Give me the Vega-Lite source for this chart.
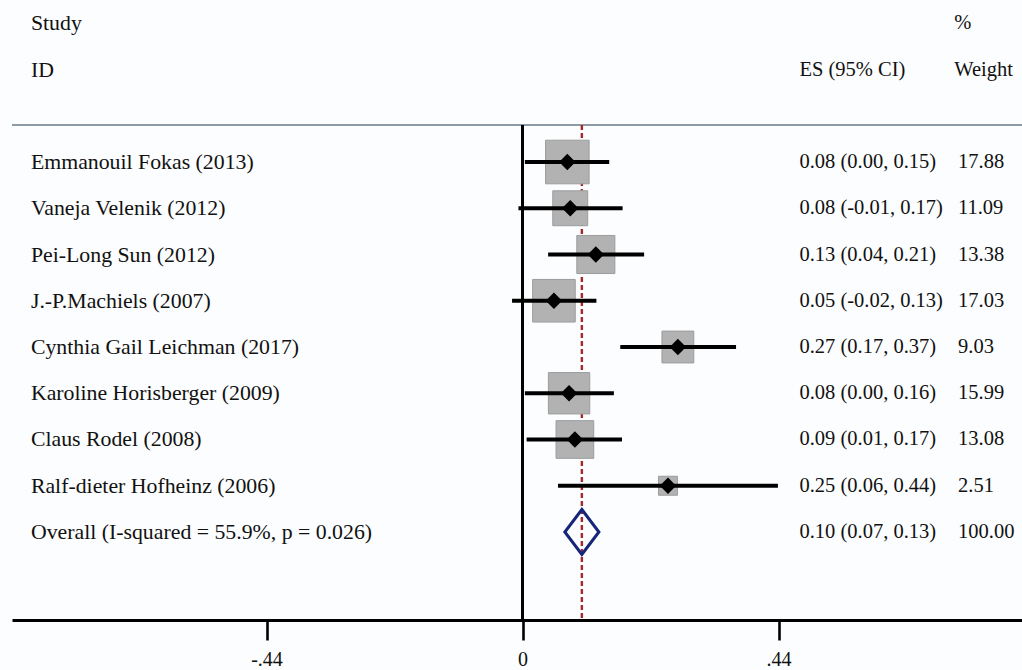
{
  "$schema": "https://vega.github.io/schema/vega-lite/v6.json",
  "width": 1010,
  "height": 620,
  "autosize": {"type": "none"},
  "padding": {"left": 12, "top": 0, "right": 0, "bottom": 50},
  "background": "#fcfdfe",
  "config": {"view": {"stroke": null}, "text": {"font": "Liberation Serif", "fontSize": 21, "color": "#111111"}},
  "data": {"values": [
    {"type": "header", "row": -2, "label": "Study", "es_text": "", "wt_text": "%"},
    {"type": "header", "row": -1, "label": "ID", "es_text": "ES (95% CI)", "wt_text": "Weight"},
    {"type": "study", "row": 1, "label": "Emmanouil Fokas (2013)", "es": 0.077, "lo": 0.004, "hi": 0.149, "weight": 17.88, "es_text": "0.08 (0.00, 0.15)", "wt_text": "17.88"},
    {"type": "study", "row": 2, "label": "Vaneja Velenik (2012)", "es": 0.082, "lo": -0.007, "hi": 0.172, "weight": 11.09, "es_text": "0.08 (-0.01, 0.17)", "wt_text": "11.09"},
    {"type": "study", "row": 3, "label": "Pei-Long Sun (2012)", "es": 0.126, "lo": 0.044, "hi": 0.209, "weight": 13.38, "es_text": "0.13 (0.04, 0.21)", "wt_text": "13.38"},
    {"type": "study", "row": 4, "label": "J.-P.Machiels (2007)", "es": 0.054, "lo": -0.018, "hi": 0.127, "weight": 17.03, "es_text": "0.05 (-0.02, 0.13)", "wt_text": "17.03"},
    {"type": "study", "row": 5, "label": "Cynthia Gail Leichman (2017)", "es": 0.267, "lo": 0.168, "hi": 0.367, "weight": 9.03, "es_text": "0.27 (0.17, 0.37)", "wt_text": "9.03"},
    {"type": "study", "row": 6, "label": "Karoline Horisberger (2009)", "es": 0.080, "lo": 0.004, "hi": 0.157, "weight": 15.99, "es_text": "0.08 (0.00, 0.16)", "wt_text": "15.99"},
    {"type": "study", "row": 7, "label": "Claus Rodel (2008)", "es": 0.090, "lo": 0.007, "hi": 0.171, "weight": 13.08, "es_text": "0.09 (0.01, 0.17)", "wt_text": "13.08"},
    {"type": "study", "row": 8, "label": "Ralf-dieter Hofheinz (2006)", "es": 0.250, "lo": 0.061, "hi": 0.439, "weight": 2.51, "es_text": "0.25 (0.06, 0.44)", "wt_text": "2.51"},
    {"type": "overall", "row": 9, "label": "Overall (I-squared = 55.9%, p = 0.026)", "es": 0.102, "lo": 0.07, "hi": 0.13, "weight": 100, "es_text": "0.10 (0.07, 0.13)", "wt_text": "100.00"}
  ]},
  "encoding": {
    "y": {"field": "row", "type": "quantitative", "scale": {"domain": [-2.503, 10.903], "reverse": true, "nice": false, "zero": false}, "axis": null}
  },
  "layer": [
    {
      "mark": {"type": "rule", "color": "#8d9ba4", "strokeWidth": 2.2},
      "encoding": {"y": {"datum": 0.2}}
    },
    {
      "mark": {"type": "rule", "color": "#000000", "strokeWidth": 2.6},
      "encoding": {
        "x": {"datum": 0, "type": "quantitative",
              "scale": {"domain": [-0.8775, 0.8585], "nice": false, "zero": false},
              "axis": {"values": [-0.44, 0, 0.44], "title": null, "grid": false,
                       "labelExpr": "datum.value == 0 ? '0' : replace(replace(format(datum.value, '.2f'), '0.', '.'), '\u2212', '-')",
                       "domainColor": "#000000", "domainWidth": 2.8, "tickColor": "#000000", "tickWidth": 2.6, "tickSize": 20,
                       "labelFont": "Liberation Serif", "labelFontSize": 20, "labelColor": "#111111", "labelPadding": 9}},
        "y": {"datum": 0.2},
        "y2": {"datum": 10.903}
      }
    },
    {
      "transform": [{"filter": "datum.type == 'overall'"}],
      "mark": {"type": "rule", "color": "#a3282a", "strokeWidth": 2.4, "strokeDash": [5, 3]},
      "encoding": {
        "x": {"field": "es", "type": "quantitative"},
        "y": {"datum": 0.2},
        "y2": {"datum": 10.903}
      }
    },
    {
      "transform": [{"filter": "datum.type == 'study'"}],
      "mark": {"type": "point", "shape": "square", "filled": true, "color": "#b2b2b2", "opacity": 1, "stroke": "#9c9c9c", "strokeWidth": 1},
      "encoding": {
        "x": {"field": "es", "type": "quantitative"},
        "size": {"field": "weight", "type": "quantitative", "scale": {"domain": [2.51, 17.88], "range": [360, 1900], "zero": false}, "legend": null}
      }
    },
    {
      "transform": [{"filter": "datum.type == 'study'"}],
      "mark": {"type": "rule", "color": "#000000", "strokeWidth": 4},
      "encoding": {
        "x": {"field": "lo", "type": "quantitative"},
        "x2": {"field": "hi"}
      }
    },
    {
      "transform": [{"filter": "datum.type == 'study'"}],
      "mark": {"type": "point", "shape": "diamond", "filled": true, "color": "#000000", "opacity": 1, "size": 270},
      "encoding": {
        "x": {"field": "es", "type": "quantitative"}
      }
    },
    {
      "transform": [{"filter": "datum.type == 'overall'"}],
      "mark": {"type": "point", "shape": "M0,-1.32L1,0L0,1.32L-1,0Z", "filled": false, "stroke": "#15257a", "strokeWidth": 3, "opacity": 1, "size": 1160},
      "encoding": {
        "x": {"field": "es", "type": "quantitative"}
      }
    },
    {
      "mark": {"type": "text", "align": "left", "baseline": "middle", "fontSize": 21.8},
      "encoding": {
        "x": {"datum": -0.845},
        "text": {"field": "label"}
      }
    },
    {
      "mark": {"type": "text", "align": "left", "baseline": "middle", "fontSize": 20.5},
      "encoding": {
        "x": {"datum": 0.476},
        "text": {"field": "es_text"}
      }
    },
    {
      "transform": [{"filter": "datum.type != 'header'"}],
      "mark": {"type": "text", "align": "left", "baseline": "middle", "fontSize": 20.5},
      "encoding": {
        "x": {"datum": 0.7485},
        "text": {"field": "wt_text"}
      }
    },
    {
      "transform": [{"filter": "datum.type == 'header'"}],
      "mark": {"type": "text", "align": "left", "baseline": "middle", "fontSize": 20.5},
      "encoding": {
        "x": {"datum": 0.742},
        "text": {"field": "wt_text"}
      }
    }
  ]
}
